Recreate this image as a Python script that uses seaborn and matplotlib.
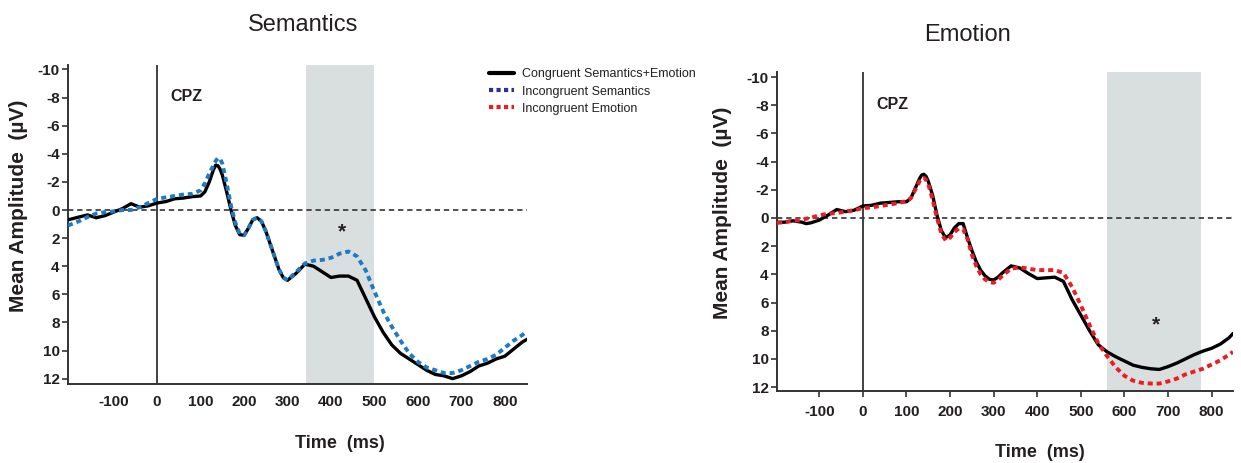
import numpy as np
import pandas as pd
import matplotlib
matplotlib.use("Agg")
import matplotlib.pyplot as plt
import seaborn as sns
from matplotlib.lines import Line2D

# ---------------- data ----------------
time_sem = [-205, -180, -160, -140, -120, -100, -80, -60, -40, -20, 0, 20, 40, 60, 80,
            100, 110, 120, 130, 135, 140, 145, 150, 160, 170, 180, 190, 200, 210, 220, 230, 240,
            250, 260, 270, 280, 290, 300, 320, 340, 360, 380, 400, 420, 440, 460, 480,
            500, 520, 540, 560, 580, 600, 620, 640, 660, 680, 700, 720, 740, 760, 780,
            800, 820, 840, 851]
sem_congruent = [0.7, 0.5, 0.35, 0.55, 0.4, 0.15, -0.1, -0.45, -0.2, -0.3, -0.5, -0.6, -0.8, -0.85, -0.95,
                 -1.0, -1.3, -2.0, -2.9, -3.2, -3.15, -2.9, -2.5, -1.3, 0.0, 1.1, 1.75, 1.8, 1.3, 0.7, 0.55, 0.8,
                 1.5, 2.4, 3.3, 4.2, 4.8, 5.0, 4.5, 3.85, 4.0, 4.4, 4.8, 4.7, 4.7, 5.0, 6.3,
                 7.6, 8.7, 9.6, 10.2, 10.6, 11.0, 11.4, 11.7, 11.8, 12.0, 11.8, 11.5, 11.1, 10.9, 10.6,
                 10.4, 9.9, 9.4, 9.2]
sem_incongruent = [1.1, 0.8, 0.5, 0.25, 0.15, 0.1, 0.0, 0.0, -0.2, -0.5, -0.8, -0.9, -1.0, -1.1, -1.15,
                   -1.4, -1.9, -2.6, -3.2, -3.5, -3.7, -3.65, -3.3, -1.9, -0.3, 0.9, 1.7, 1.8, 1.3, 0.7, 0.55, 0.8,
                   1.5, 2.4, 3.3, 4.2, 4.8, 5.0, 4.4, 3.8, 3.6, 3.55, 3.4, 3.1, 2.95, 3.3, 4.3,
                   5.8, 7.2, 8.3, 9.3, 10.2, 10.8, 11.2, 11.4, 11.6, 11.6, 11.4, 11.1, 10.8, 10.6, 10.3,
                   9.8, 9.3, 8.9, 8.6]

time_emo = [-197, -180, -160, -140, -130, -120, -100, -80, -60, -40, -20, 0, 20, 40, 60, 80,
            100, 110, 120, 130, 135, 140, 145, 150, 160, 170, 180, 190, 200, 210, 220, 230, 240,
            250, 260, 270, 280, 290, 300, 310, 320, 340, 360, 380, 400, 420, 440, 460, 480,
            500, 520, 540, 560, 580, 600, 620, 640, 660, 680, 700, 720, 740, 760, 780,
            800, 820, 840, 849]
emo_congruent = [0.3, 0.3, 0.2, 0.3, 0.4, 0.35, 0.15, -0.2, -0.6, -0.45, -0.55, -0.85, -0.9, -1.05, -1.1, -1.15,
                 -1.15, -1.4, -2.1, -2.8, -3.05, -3.1, -2.95, -2.6, -1.6, -0.2, 0.9, 1.4, 1.2, 0.7, 0.4, 0.4, 1.4,
                 2.3, 3.1, 3.7, 4.1, 4.35, 4.4, 4.2, 3.9, 3.4, 3.55, 3.95, 4.3, 4.25, 4.2, 4.5, 5.8,
                 6.9, 8.0, 9.0, 9.5, 9.85, 10.15, 10.45, 10.6, 10.7, 10.75, 10.55, 10.3, 10.0, 9.7, 9.45,
                 9.25, 8.95, 8.5, 8.2]
emo_incongruent = [0.35, 0.3, 0.2, 0.15, 0.05, 0.0, -0.2, -0.3, -0.35, -0.45, -0.55, -0.7, -0.75, -0.85, -0.95, -1.05,
                   -1.2, -1.4, -2.0, -2.6, -2.8, -2.85, -2.7, -2.4, -1.3, 0.0, 1.1, 1.6, 1.4, 1.0, 0.75, 0.8, 1.5,
                   2.6, 3.4, 4.0, 4.35, 4.55, 4.6, 4.4, 4.1, 3.6, 3.5, 3.6, 3.7, 3.7, 3.7, 3.9, 4.9,
                   6.2, 7.6, 8.9, 9.8, 10.6, 11.2, 11.55, 11.7, 11.75, 11.75, 11.6, 11.4, 11.1, 10.9, 10.7,
                   10.4, 10.1, 9.7, 9.5]

legend_labels = ["Congruent Semantics+Emotion", "Incongruent Semantics", "Incongruent Emotion"]
panel_titles = ["Semantics", "Emotion"]
x_ticks = [-100, 0, 100, 200, 300, 400, 500, 600, 700, 800]
y_ticks = [-10, -8, -6, -4, -2, 0, 2, 4, 6, 8, 10, 12]
sig_windows = [(343, 499), (560, 775)]
star_pos = [(425, 1.55), (672, 7.6)]

# ---------------- style ----------------
sns.set_style("white")
plt.rcParams['font.family'] = ['Liberation Sans', 'DejaVu Sans']
TXT = "#231f20"

fig = plt.figure(figsize=(12.41, 4.63), dpi=100)
ax1 = fig.add_axes([68/1241, (463-384)/463, 459/1241, 319/463])
ax2 = fig.add_axes([777/1241, (463-391)/463, 456/1241, 319/463])

df_sem = pd.DataFrame({"t": time_sem, "cong": sem_congruent, "inc": sem_incongruent})
df_emo = pd.DataFrame({"t": time_emo, "cong": emo_congruent, "inc": emo_incongruent})

blue_line = "#1f7ac4"
red_line = "#ec1c24"
shade = "#d9dfdf"

configs = [
    (ax1, df_sem, blue_line, (-205, 851), (12.38, -10.32), sig_windows[0], star_pos[0], panel_titles[0]),
    (ax2, df_emo, red_line, (-197, 849), (12.28, -10.36), sig_windows[1], star_pos[1], panel_titles[1]),
]

for i, (ax, df, col, xl, yl, win, star, title) in enumerate(configs):
    ax.axvspan(win[0], win[1], color=shade, zorder=0, lw=0)
    ax.axhline(0, color="#222222", lw=1.1, ls=(0, (3.5, 2.5)), zorder=1)
    ax.axvline(0, color="#333333", lw=1.3, zorder=1)
    sns.lineplot(data=df, x="t", y="cong", ax=ax, color="black", lw=2.4, zorder=3, sort=False)
    sns.lineplot(data=df, x="t", y="inc", ax=ax, color=col, lw=2.8, zorder=4, sort=False,
                 linestyle=(0, (1.3, 1.0)))
    for ln in ax.lines[-2:]:
        ln.set_dash_capstyle("butt")
        ln.set_solid_joinstyle("round")
    ax.set_xlim(*xl)
    ax.set_ylim(*yl)
    ax.set_xticks(x_ticks)
    ax.set_yticks(y_ticks)
    ax.set_xticklabels([str(v) for v in x_ticks], fontsize=11, fontweight="bold", color=TXT)
    ax.set_yticklabels([str(v) for v in y_ticks], fontsize=11, fontweight="bold", color=TXT)
    for s in ["top", "right"]:
        ax.spines[s].set_visible(False)
    for s in ["left", "bottom"]:
        ax.spines[s].set_color("#333333")
        ax.spines[s].set_linewidth(1.4)
    ax.tick_params(axis="y", length=4, width=1.2, color="#333333", pad=2, left=True)
    if i == 0:
        ax.tick_params(axis="x", length=0, pad=8, bottom=True)
    else:
        ax.tick_params(axis="x", length=4, width=1.2, color="#333333", pad=6, bottom=True)
    ax.set_ylabel("Mean Amplitude  (\u00b5V)", fontsize=15, fontweight="bold", color=TXT)
    ax.set_xlabel("Time  (ms)", fontsize=13, fontweight="bold", color=TXT)
    ax.text(30, -8.05, "CPZ", fontsize=11.5, fontweight="bold", color=TXT, va="center", ha="left")
    ax.text(star[0], star[1], "*", fontsize=15, fontweight="bold", color=TXT, va="center", ha="center")

ax1.yaxis.set_label_coords(-0.087, 0.56)
ax2.yaxis.set_label_coords(-0.099, 0.56)
ax1.xaxis.set_label_coords(0.593, -0.16)
ax2.xaxis.set_label_coords(0.577, -0.165)

fig.text(303/1241, 1 - 25/463, panel_titles[0], fontsize=17, color=TXT, ha="center", va="center")
fig.text(968/1241, 1 - 35/463, panel_titles[1], fontsize=17, color=TXT, ha="center", va="center")

handles = [
    Line2D([], [], color="black", lw=3),
    Line2D([], [], color="#2e3192", lw=3, ls=(0, (1.0, 0.8))),
    Line2D([], [], color="#ed1c24", lw=3, ls=(0, (1.0, 0.8))),
]
for h in handles[1:]:
    h.set_dash_capstyle("butt")
leg = fig.legend(handles, legend_labels, loc="upper left",
                 bbox_to_anchor=(478/1241, 1 - 57/463), frameon=False,
                 handlelength=2.0, handletextpad=0.6, labelspacing=0.42,
                 prop={"family": ["Liberation Sans Narrow", "Liberation Sans"], "size": 9})
for t in leg.get_texts():
    t.set_color(TXT)

fig.savefig("out.png", dpi=100)
